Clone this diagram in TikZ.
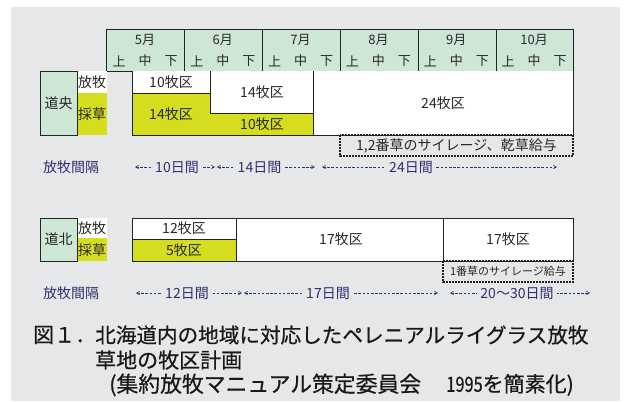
\documentclass[tikz,border=0pt]{standalone}
\usepackage{fontspec}
\usepackage{graphicx}
\setmainfont{Noto Sans CJK JP}
\newfontfamily\capfont[FakeBold=0.6]{Noto Sans CJK JP}
\usetikzlibrary{arrows.meta}
\definecolor{bg}{RGB}{230,231,233}
\definecolor{hdr}{RGB}{205,230,214}
\definecolor{ylw}{RGB}{212,221,30}
\definecolor{navy}{RGB}{45,48,110}
\definecolor{ln}{RGB}{35,35,35}
\definecolor{txt}{RGB}{40,40,40}
\begin{document}
\begin{tikzpicture}[x=1pt,y=-1pt,
  cell/.style={draw=ln,line width=0.9pt},
  dashbox/.style={draw=ln,line width=1.1pt,dash pattern=on 1.8pt off 1.2pt},
  lbl/.style={font=\fontsize{14}{14}\selectfont,text=txt,inner sep=0pt},
  hlbl/.style={font=\fontsize{13}{13}\selectfont,text=txt,inner sep=0pt},
  small/.style={font=\fontsize{11}{11}\selectfont,text=txt,inner sep=0pt},
  ivtext/.style={font=\fontsize{14}{14}\selectfont,text=navy,fill=bg,inner xsep=3pt,inner ysep=1pt},
  ivline/.style={draw=navy,line width=0.6pt,dash pattern=on 2.6pt off 1.6pt,
     {Straight Barb[length=3pt,width=3.4pt]}-{Straight Barb[length=3pt,width=3.4pt]}},
  captext/.style={font=\capfont\fontsize{21}{21}\selectfont,text=black!90,inner sep=0pt,anchor=west}]
\useasboundingbox (0,0) rectangle (627,403);
\fill[bg] (11,7) rectangle (620,401);

% header
\draw[cell,fill=hdr] (106,29) rectangle (573,71);
\foreach \x in {184,262,340,418,496} \draw[cell] (\x,29) -- (\x,71);
\foreach \m [count=\i from 0] in {5,6,7,8,9,10}{
  \node[hlbl] (mon\m) at ({106+77.83*\i+38.9},40) {\m 月};
  \node[hlbl] (jo\m) at ({106+77.83*\i+13},61) {上};
  \node[hlbl] (chu\m) at ({106+77.83*\i+39},61) {中};
  \node[hlbl] (ge\m) at ({106+77.83*\i+65},61) {下};
}

% ---- top section
\draw[cell,fill=hdr] (40,71) rectangle (77,135);
\node[lbl] (dochuo) at (58.5,103) {道央};
\fill[white] (77.5,71.5) rectangle (107,93);
\fill[ylw] (77.5,93) rectangle (107,135.5);
\node[lbl] (hb1) at (92,82) {放牧};
\node[lbl] (ss1) at (92,114.5) {採草};

\fill[white] (132,71) rectangle (573,135);
\fill[ylw] (132,93) -- (210,93) -- (210,113) -- (313,113) -- (313,135) -- (132,135) -- cycle;
\draw[cell] (132,71) -- (132,135) -- (573,135) -- (573,71);
\draw[cell] (132,93) -- (210,93);
\draw[cell] (210,71) -- (210,113) -- (313,113);
\draw[cell] (313,71) -- (313,135);
\node[lbl] (t10a) at (171,82) {10牧区};
\node[lbl] (t14a) at (171,114) {14牧区};
\node[lbl] (t14b) at (262,92) {14牧区};
\node[lbl] (t10b) at (262,124) {10牧区};
\node[lbl] (t24) at (443,103) {24牧区};
\draw[dashbox] (340,135) rectangle (573,156);
\node[lbl] (sil1) at (456.5,145.5) {1,2番草のサイレージ、乾草給与};

% interval row 1
\node[lbl,text=navy] (iv1) at (71,167) {放牧間隔};
\coordinate (a1s) at (135,167); \coordinate (a1e) at (215,167);
\coordinate (a2s) at (217,167); \coordinate (a2e) at (315,167);
\coordinate (a3s) at (322,167); \coordinate (a3e) at (557,167);
\draw[ivline] (a1s) -- (a1e);
\draw[ivline] (a2s) -- (a2e);
\draw[ivline] (a3s) -- (a3e);
\node[ivtext] (d10) at (177,167) {10日間};
\node[ivtext] (d14) at (259.5,167) {14日間};
\node[ivtext] (d24) at (411,167) {24日間};

% ---- bottom section
\draw[cell,fill=hdr] (40,218) rectangle (77,261);
\node[lbl] (dohoku) at (58.5,239.5) {道北};
\fill[white] (77.5,218.5) rectangle (107,238.5);
\fill[ylw] (77.5,238.5) rectangle (107,261.5);
\node[lbl] (hb2) at (92,228) {放牧};
\node[lbl] (ss2) at (92,250) {採草};

\fill[white] (132,218) rectangle (573,261);
\fill[ylw] (132,239) rectangle (236,261);
\draw[cell] (132,218) rectangle (573,261);
\draw[cell] (132,239) -- (236,239);
\draw[cell] (236,218) -- (236,261);
\draw[cell] (443,218) -- (443,261);
\node[lbl] (t12) at (184,228.5) {12牧区};
\node[lbl] (t5) at (184,250) {5牧区};
\node[lbl] (t17a) at (341,239.5) {17牧区};
\node[lbl] (t17b) at (508,239.5) {17牧区};
\draw[dashbox] (443,261) rectangle (573,282);
\node[small] (sil2) at (508,271.5) {1番草のサイレージ給与};

% interval row 2
\node[lbl,text=navy] (iv2) at (71,293) {放牧間隔};
\coordinate (b1s) at (136,293); \coordinate (b1e) at (242,293);
\coordinate (b2s) at (244,293); \coordinate (b2e) at (438,293);
\coordinate (b3s) at (450,293); \coordinate (b3e) at (590,293);
\draw[ivline] (b1s) -- (b1e);
\draw[ivline] (b2s) -- (b2e);
\draw[ivline] (b3s) -- (b3e);
\node[ivtext] (d12) at (187,293) {12日間};
\node[ivtext] (d17) at (328,293) {17日間};
\node[ivtext] (d2030) at (517,293) {20～30日間};

% caption
\node[captext] (fig) at (33,335) {図１．};
\node[captext,font=\capfont\fontsize{20.6}{21}\selectfont] (c1) at (95,335) {北海道内の地域に対応したペレニアルライグラス放牧};
\node[captext] (c2) at (95,360) {草地の牧区計画};
\node[captext,font=\capfont\fontsize{21.8}{22}\selectfont] (c3a) at (109,385) {(集約放牧マニュアル策定委員会};
\node[captext,anchor=east] (c3b) at (574,385) {\scalebox{0.78}[1]{1995}を簡素化)};
\end{tikzpicture}
\end{document}
